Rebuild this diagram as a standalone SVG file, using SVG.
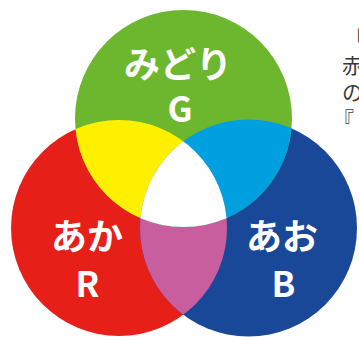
<svg xmlns="http://www.w3.org/2000/svg" width="359" height="337" viewBox="0 0 359 337">
<style>
.lbl{font-family:"Noto Sans CJK JP","Noto Sans",sans-serif;font-weight:bold;fill:#ffffff;text-anchor:middle}
.kana{font-size:36px}
.latin{font-size:35px}
.side{font-family:"Noto Sans CJK JP",sans-serif;font-size:21px;fill:#3a3a3a}
</style>
<defs>
<clipPath id="cR"><circle cx="119" cy="228" r="108"/></clipPath>
<clipPath id="cB"><circle cx="248.5" cy="228" r="108.5"/></clipPath>
</defs>
<rect width="359" height="337" fill="#ffffff"/>
<g id="red"><circle cx="119" cy="228" r="108" fill="#e61f19"/></g>
<g id="blue"><circle cx="248.5" cy="228" r="108.5" fill="#1a4899"/></g>
<g id="green"><circle cx="183.5" cy="118.5" r="108.5" fill="#6db72e"/></g>
<g id="overlaps">
<g clip-path="url(#cR)"><circle cx="248.5" cy="228" r="108.5" fill="#c95e9e"/><circle cx="183.5" cy="118.5" r="108.5" fill="#fff000"/></g>
<g clip-path="url(#cB)"><circle cx="183.5" cy="118.5" r="108.5" fill="#009fe0"/></g>
<g clip-path="url(#cR)"><g clip-path="url(#cB)"><circle cx="183.5" cy="118.5" r="108.5" fill="#ffffff"/></g></g>
</g>
<g id="labels">
<text class="lbl kana" x="178" y="78">みどり</text>
<text class="lbl latin" x="180" y="122">G</text>
<text class="lbl kana" x="87" y="250">あか</text>
<text class="lbl latin" x="87.5" y="297">R</text>
<text class="lbl kana" x="282" y="250">あお</text>
<text class="lbl latin" x="283.5" y="297">B</text>
</g>
<g id="side-text">
<text class="side" x="344.5" y="46">「</text>
<text class="side" x="342" y="73">赤</text>
<text class="side" x="342" y="100">の</text>
<text class="side" x="333" y="127">『</text>
</g>
</svg>
